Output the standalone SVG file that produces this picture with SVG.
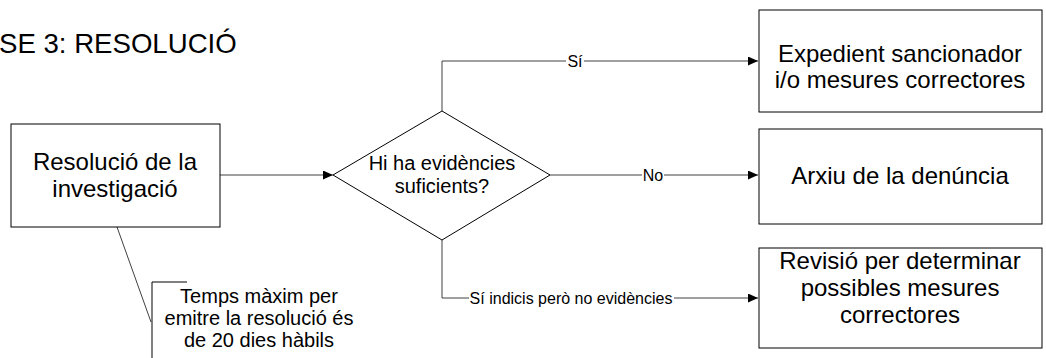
<svg xmlns="http://www.w3.org/2000/svg" width="1046" height="358" viewBox="0 0 1046 358">
<defs>
<marker id="arr" viewBox="0 0 10 10" refX="10" refY="5" markerWidth="10" markerHeight="9" markerUnits="userSpaceOnUse" orient="auto" preserveAspectRatio="none">
<path d="M0,0 L10,5 L0,10 z" fill="#000"/>
</marker>
<style>
.box{fill:#fff;stroke:#000;stroke-width:1}
.t{font-family:"Liberation Sans",Arial,sans-serif;fill:#000;text-anchor:middle}
.big{font-size:24px}
.mid{font-size:20px}
.lbl{font-size:16px}
.c{fill:none;stroke:#404040;stroke-width:1}
.lb{fill:#fff}
</style>
</defs>
<rect width="1046" height="358" fill="#fff"/>
<text x="-1" y="53" style="font-family:'Liberation Sans',Arial,sans-serif;font-size:27.6px" fill="#000">SE 3: RESOLUCIÓ</text>

<g id="connectors">
<path class="c" d="M220,175 H333" marker-end="url(#arr)"/>
<path class="c" d="M442,111 V61 H758" marker-end="url(#arr)"/>
<path class="c" d="M550,175 H758" marker-end="url(#arr)"/>
<path class="c" d="M442,240 V298 H758" marker-end="url(#arr)"/>
<path class="c" d="M117,227 L151,322" stroke="#000"/>
<rect class="lb" x="566" y="53" width="18" height="16"/>
<text class="t lbl" x="575" y="67">Sí</text>
<rect class="lb" x="642" y="167" width="22" height="16"/>
<text class="t lbl" x="653" y="181">No</text>
<rect class="lb" x="469" y="290" width="205" height="16"/>
<text class="t lbl" x="571" y="304">Sí indicis però no evidències</text>
</g>

<g id="resolucio">
<rect class="box" x="11" y="124" width="209" height="103"/>
<text class="t big" x="115" y="170">Resolució de la</text>
<text class="t big" x="115" y="197">investigació</text>
</g>

<g id="decisio">
<polygon class="box" points="333,175 442,111 550,175 442,240"/>
<text class="t mid" x="442" y="170">Hi ha evidències</text>
<text class="t mid" x="442" y="193">suficients?</text>
</g>

<g id="nota">
<path d="M187,282 H152 V358" fill="none" stroke="#000" stroke-width="1"/>
<text class="t mid" x="259" y="303">Temps màxim per</text>
<text class="t mid" x="259" y="325">emitre la resolució és</text>
<text class="t mid" x="259" y="347">de 20 dies hàbils</text>
</g>

<g id="expedient">
<rect class="box" x="759" y="10" width="283" height="102"/>
<text class="t big" x="900" y="62">Expedient sancionador</text>
<text class="t big" x="900" y="88">i/o mesures correctores</text>
</g>

<g id="arxiu">
<rect class="box" x="759" y="129" width="283" height="95"/>
<text class="t big" x="900" y="184">Arxiu de la denúncia</text>
</g>

<g id="revisio">
<rect class="box" x="759" y="248" width="283" height="100"/>
<text class="t big" x="900" y="269">Revisió per determinar</text>
<text class="t big" x="900" y="296">possibles mesures</text>
<text class="t big" x="900" y="323">correctores</text>
</g>
</svg>
